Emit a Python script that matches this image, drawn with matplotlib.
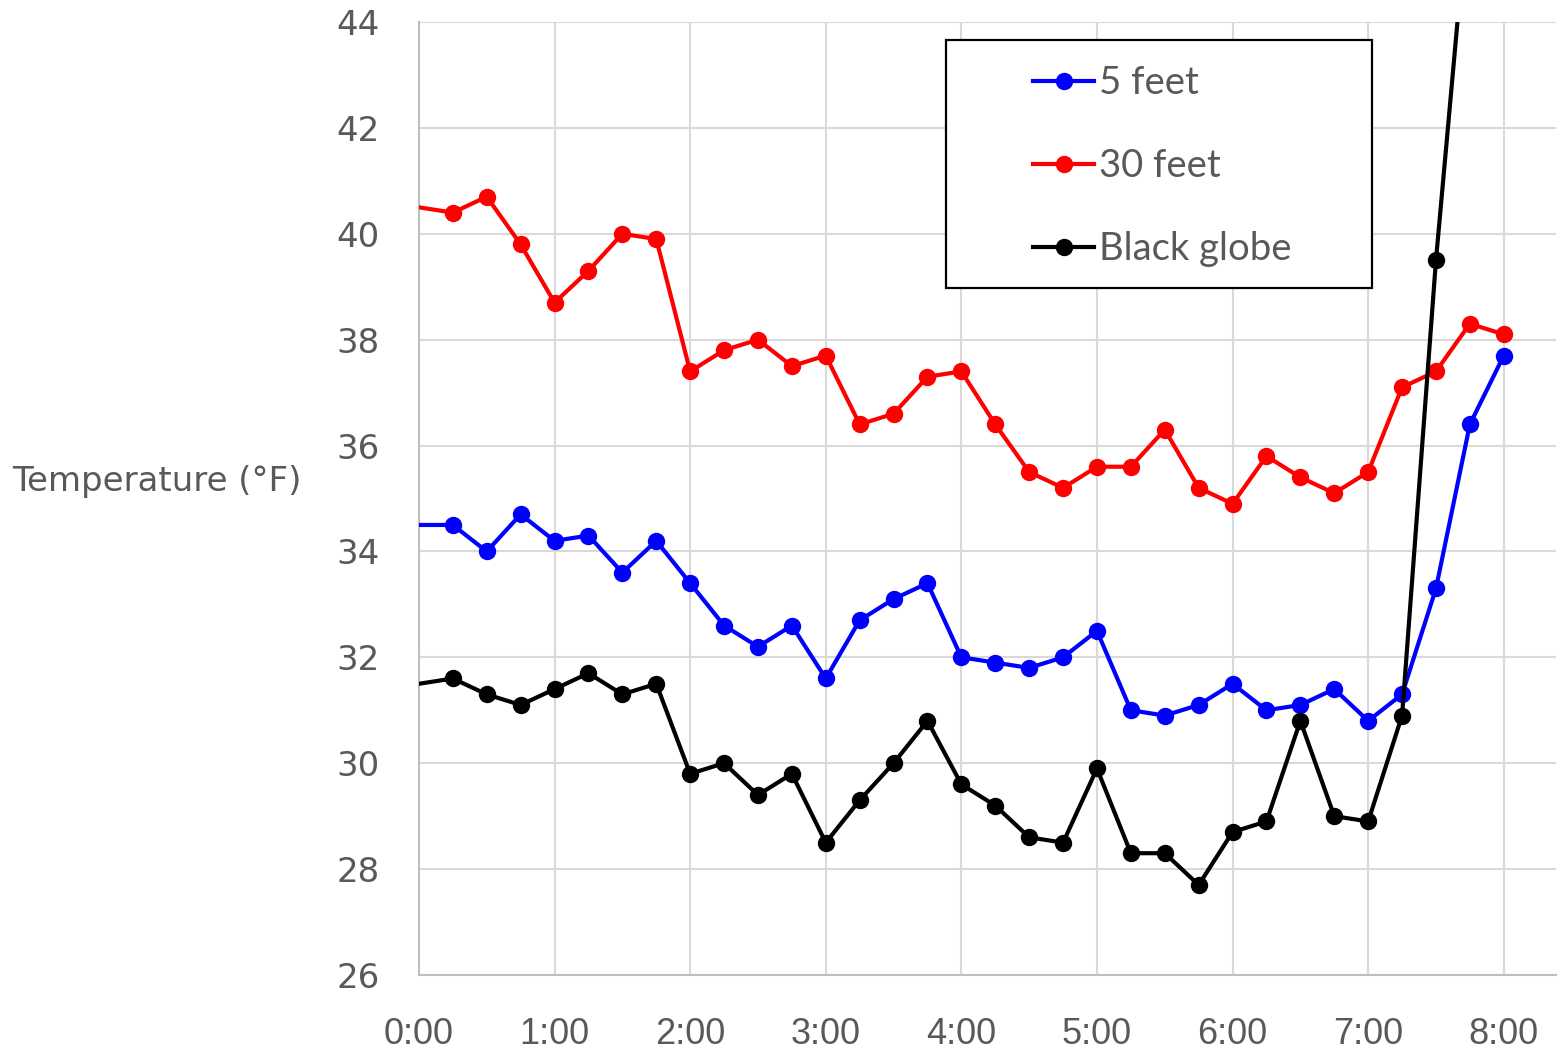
import matplotlib
matplotlib.use("Agg")
import matplotlib.pyplot as plt
from matplotlib.patches import Rectangle
import numpy as np

# time in hours, every 15 minutes
hours = np.arange(0, 8.01, 0.25)

feet5 = [34.5, 34.5, 34.0, 34.7, 34.2, 34.3, 33.6, 34.2, 33.4, 32.6, 32.2, 32.6, 31.6,
         32.7, 33.1, 33.4, 32.0, 31.9, 31.8, 32.0, 32.5, 31.0, 30.9, 31.1, 31.5, 31.0,
         31.1, 31.4, 30.8, 31.3, 33.3, 36.4, 37.7]
feet30 = [40.5, 40.4, 40.7, 39.8, 38.7, 39.3, 40.0, 39.9, 37.4, 37.8, 38.0, 37.5, 37.7,
          36.4, 36.6, 37.3, 37.4, 36.4, 35.5, 35.2, 35.6, 35.6, 36.3, 35.2, 34.9, 35.8,
          35.4, 35.1, 35.5, 37.1, 37.4, 38.3, 38.1]
globe = [31.5, 31.6, 31.3, 31.1, 31.4, 31.7, 31.3, 31.5, 29.8, 30.0, 29.4, 29.8, 28.5,
         29.3, 30.0, 30.8, 29.6, 29.2, 28.6, 28.5, 29.9, 28.3, 28.3, 27.7, 28.7, 28.9,
         30.8, 29.0, 28.9, 30.9, 39.5, 46.6, 48.0]

series_names = ["5 feet", "30 feet", "Black globe"]
series_colors = ["#0000ff", "#ff0000", "#000000"]

xticks = list(range(0, 9))
xlabels = ["%d:00" % h for h in xticks]
yticks = list(range(26, 45, 2))

fig = plt.figure(figsize=(15.58, 10.53), dpi=100)
ax = fig.add_axes([0.2689, 0.0741, 0.7298, 0.9050])

for vals, name, col in zip([feet5, feet30, globe], series_names, series_colors):
    ax.plot(hours, vals, color=col, lw=3.0, marker="o", ms=11.5,
            markevery=slice(1, None), label=name, zorder=3)

ax.set_xlim(0, 8.385)
ax.set_ylim(26, 44)
ax.set_xticks(xticks)
ax.set_xticklabels(xlabels, fontsize=26, color="#595959", family="Liberation Sans")
ax.set_yticks(yticks)
ax.set_yticklabels([str(v) for v in yticks], fontsize=24.5, color="#595959",
                   family="DejaVu Sans")
ax.tick_params(axis="both", length=0)
ax.tick_params(axis="y", pad=28)
ax.tick_params(axis="x", pad=30)

ax.grid(True, color="#d9d9d9", lw=1.5, zorder=0)
ax.set_axisbelow(True)
for s in ["top", "right"]:
    ax.spines[s].set_visible(False)
for s in ["left", "bottom"]:
    ax.spines[s].set_color("#bfbfbf")
    ax.spines[s].set_linewidth(1.5)

# legend frame
ax.add_patch(Rectangle((0.4635, 0.721), 0.3745, 0.2605, transform=ax.transAxes,
                       facecolor="white", edgecolor="black", lw=1.6, zorder=4))
leg = ax.legend(loc="upper left", bbox_to_anchor=(0.5128, 0.987), frameon=False,
                prop={"family": "Lato", "size": 27.5}, labelcolor="#595959",
                handlelength=1.62, handletextpad=0.12, labelspacing=1.23,
                borderpad=0.3)
leg.set_zorder(5)

fig.text(12 / 1558, 1 - 482 / 1053, "Temperature (°F)", fontsize=24.5, color="#595959",
         family="DejaVu Sans", ha="left", va="center")

fig.savefig("out.png", dpi=100)
